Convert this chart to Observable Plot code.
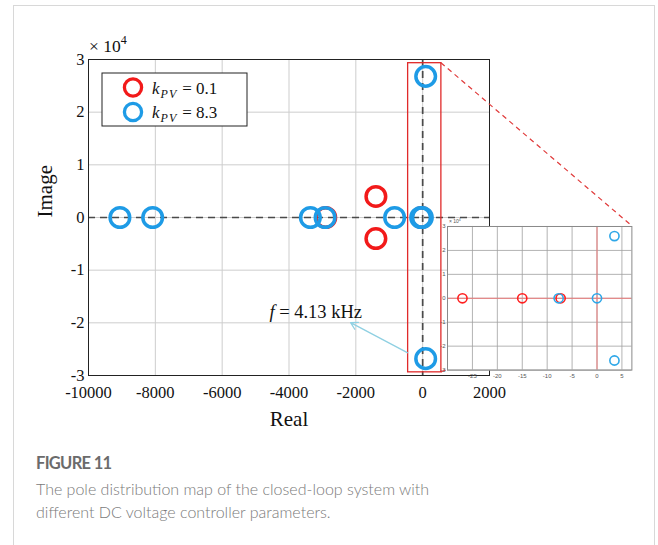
<!DOCTYPE html>
<html>
<head>
<meta charset="utf-8">
<script src="https://cdn.jsdelivr.net/npm/d3@7"></script>
<script src="https://cdn.jsdelivr.net/npm/@observablehq/plot@0.6"></script>
<style>
  html, body { margin: 0; padding: 0; background: #fff; width: 658px; height: 545px; overflow: hidden; }
  #card { position: absolute; left: 13px; top: 5px; width: 642px; height: 620px; border: 1.5px solid #d8d8d8; box-sizing: border-box; }
  #main, #links, #inset { position: absolute; left: 0; top: 0; }
  #links { pointer-events: none; }
  #main svg text, #main svg tspan { font-family: "Liberation Serif", "Times New Roman", serif; }
  #inset svg text, #inset svg tspan { font-family: "Liberation Sans", Arial, sans-serif; }
  #caption { position: absolute; left: 36px; top: 452px; font-family: Lato, "Open Sans", sans-serif; }
  #caption .fig { font-size: 16.5px; font-weight: 700; color: #6b6b6b; line-height: 22px; letter-spacing: -0.7px; }
  #caption .txt { font-size: 16px; font-weight: 300; color: #7a7a7a; line-height: 23px; margin-top: 3px; }
</style>
</head>
<body>
<div id="card"></div>
<div id="main"></div>
<svg id="links" width="658" height="440"></svg>
<div id="inset"></div>
<div id="caption">
  <div class="fig">FIGURE 11</div>
  <div class="txt">The pole distribution map of the closed-loop system with<br>different DC voltage controller parameters.</div>
</div>
<script>
// DC voltage controller gains and series colours
const kpv = [0.1, 8.3];
const colors = ["#f21a1a", "#1e9be6"];

// Closed-loop poles, full view (real, imaginary)
const redReal  = [-1400, -1400, -2900, -30];
const redImag  = [4000, -4000, 0, 0];
const blueReal = [-9060, -8080, -3360, -2920, -840, -60, -10, 90, 90];
const blueImag = [0, 0, 0, 0, 0, 0, 0, 26800, -26800];

const xTicks = [-10000, -8000, -6000, -4000, -2000, 0, 2000];
const yTicks = [-30000, -20000, -10000, 0, 10000, 20000, 30000];

// Zoom window around the imaginary axis
const zoomReal = [-435, 560];
const zoomImag = [-29400, 29300];

// Oscillation annotation
const noteText = "f = 4.13 kHz";
const noteAt = [-3200, -17900];
const arrowFrom = [-460, -25670];
const arrowTo = [-2156, -19960];

// Poles near the origin, magnified view (imaginary in units of 1e4)
const insetRedReal  = [-27, -15, -7.3];
const insetRedImag  = [0, 0, 0];
const insetBlueReal = [-7.7, 0, 3.5, 3.5];
const insetBlueImag = [0, 0, 2.6, -2.6];
const insetXTicks = [-25, -20, -15, -10, -5, 0, 5];
const insetYTicks = [-3, -2, -1, 0, 1, 2, 3];

const rows = (re, im) => re.map((x, i) => ({re: x, im: im[i]}));
const redPoles = rows(redReal, redImag);
const bluePoles = rows(blueReal, blueImag);
const insetRed = rows(insetRedReal, insetRedImag);
const insetBlue = rows(insetBlueReal, insetBlueImag);

const M = {left: 88, right: 169, top: 59, bottom: 65, width: 658, height: 440};
const serif = "'Liberation Serif', 'Times New Roman', serif";

const main = Plot.plot({
  width: M.width, height: M.height,
  marginLeft: M.left, marginRight: M.right, marginTop: M.top, marginBottom: M.bottom,
  style: {fontFamily: serif, fontSize: "16.5px", color: "#111", background: "transparent", overflow: "visible"},
  x: {domain: [-10000, 2000], label: null},
  y: {domain: [-30000, 30000], label: null},
  marks: [
    Plot.gridX(xTicks, {stroke: "#cdcdcd", strokeOpacity: 1}),
    Plot.gridY(yTicks, {stroke: "#cdcdcd", strokeOpacity: 1}),
    Plot.ruleY([0], {stroke: "#4a4a4a", strokeWidth: 1.7, strokeDasharray: "7,5"}),
    Plot.ruleX([0], {stroke: "#4a4a4a", strokeWidth: 1.7, strokeDasharray: "7,5"}),
    Plot.rect([{x1: zoomReal[0], x2: zoomReal[1], y1: zoomImag[0], y2: zoomImag[1]}],
      {x1: "x1", x2: "x2", y1: "y1", y2: "y2", fill: "none", stroke: "#e02a2a", strokeWidth: 1.3}),
    Plot.dot(redPoles, {x: "re", y: "im", r: 9.8, stroke: colors[0], strokeWidth: 3.5}),
    Plot.dot(bluePoles, {x: "re", y: "im", r: 9.8, stroke: colors[1], strokeWidth: 3.5}),
    Plot.arrow([{x1: arrowFrom[0], y1: arrowFrom[1], x2: arrowTo[0], y2: arrowTo[1]}],
      {x1: "x1", y1: "y1", x2: "x2", y2: "y2", stroke: "#8fd0e2", strokeWidth: 1.3, headLength: 9}),
    Plot.text([noteText], {x: noteAt[0], y: noteAt[1], text: d => d, fontSize: 18.5}),
    Plot.frame({stroke: "#222", strokeWidth: 1}),
    Plot.axisX(xTicks, {tickSize: 0, tickPadding: 11, tickFormat: d => String(d), label: null}),
    Plot.axisY(yTicks, {tickSize: 0, tickPadding: 4, tickFormat: d => String(d / 1e4), label: null}),
    Plot.text(["Real"], {frameAnchor: "bottom", dy: 50, text: d => d, fontSize: 21}),
    Plot.text(["Image"], {frameAnchor: "left", dx: -43, rotate: -90, text: d => d, fontSize: 21})
  ]
});
document.getElementById("main").appendChild(main);

const svg = d3.select(main);
// italic frequency symbol
svg.selectAll("text").filter(function () { return this.textContent === noteText; })
  .text(null)
  .call(t => {
    t.append("tspan").attr("font-style", "italic").text("f");
    t.append("tspan").text(noteText.slice(1));
  });

// exponent label above the y axis
const expo = svg.append("text")
  .attr("x", M.left + 1).attr("y", M.top - 7).attr("text-anchor", "start")
  .attr("font-size", 17.5).attr("fill", "#111");
expo.append("tspan").text("× 10");
expo.append("tspan").attr("font-size", 12).attr("dy", -8).text("4");

// legend
const lg = svg.append("g").attr("transform", `translate(${M.left + 14},${M.top + 14})`)
  .attr("font-size", 17).attr("fill", "#111").attr("text-anchor", "start");
lg.append("rect").attr("width", 145).attr("height", 53).attr("fill", "#fff").attr("stroke", "#222").attr("stroke-width", 1);
kpv.forEach((k, i) => {
  const gy = 14.5 + i * 24.5;
  lg.append("circle").attr("cx", 31).attr("cy", gy).attr("r", 8.6)
    .attr("fill", "none").attr("stroke", colors[i]).attr("stroke-width", 3.3);
  const t = lg.append("text").attr("x", 50).attr("y", gy + 6);
  t.append("tspan").attr("font-style", "italic").text("k");
  t.append("tspan").attr("font-style", "italic").attr("font-size", 12).attr("dy", 4).attr("dx", 1).attr("letter-spacing", 1).text("PV");
  t.append("tspan").attr("dy", -4).attr("dx", 5).text("= " + k);
});

// magnified view
const I = {left: 435.3, top: 215.7, width: 200.4, height: 165.6, mL: 12, mR: 4, mT: 10, mB: 12};
const inset = Plot.plot({
  width: I.width, height: I.height,
  marginLeft: I.mL, marginRight: I.mR, marginTop: I.mT, marginBottom: I.mB,
  style: {fontSize: "6px", color: "#555", background: "transparent", overflow: "visible"},
  x: {domain: [-30, 7], label: null},
  y: {domain: [-3, 3], label: null},
  marks: [
    Plot.frame({fill: "#fff", stroke: null}),
    Plot.gridX(insetXTicks, {stroke: "#a0a0a0", strokeOpacity: 1, strokeWidth: 0.8}),
    Plot.gridY(insetYTicks, {stroke: "#a0a0a0", strokeOpacity: 1, strokeWidth: 0.8}),
    Plot.ruleX([0], {stroke: "#ec7a7a", strokeWidth: 1}),
    Plot.ruleY([0], {stroke: "#ec7a7a", strokeWidth: 1}),
    Plot.dot(insetRed, {x: "re", y: "im", r: 4.6, stroke: "#ff1f1f", strokeWidth: 1.6}),
    Plot.dot(insetBlue, {x: "re", y: "im", r: 4.6, stroke: "#2ea7e8", strokeWidth: 1.6}),
    Plot.frame({stroke: "#8a8a8a", strokeWidth: 1}),
    Plot.axisX(insetXTicks, {tickSize: 0, tickPadding: 4, tickFormat: d => String(d), label: null}),
    Plot.axisY(insetYTicks, {tickSize: 0, tickPadding: 2, tickFormat: d => String(d), label: null})
  ]
});
const insetDiv = document.getElementById("inset");
insetDiv.style.left = I.left + "px";
insetDiv.style.top = I.top + "px";
insetDiv.appendChild(inset);
const ie = d3.select(inset).append("text")
  .attr("x", I.mL + 2).attr("y", I.mT - 3).attr("text-anchor", "start")
  .attr("font-size", 5).attr("fill", "#555");
ie.append("tspan").text("× 10");
ie.append("tspan").attr("font-size", 3.5).attr("dy", -2).text("4");

// dashed connectors from the zoom window to the magnified view
const sx = main.scale("x"), sy = main.scale("y");
const links = [
  [[sx.apply(zoomReal[1]), sy.apply(zoomImag[1])], [I.left + I.width - I.mR, I.top + I.mT]],
  [[sx.apply(zoomReal[1]), sy.apply(zoomImag[0])], [I.left + I.mL, I.top + I.height - I.mB]]
];
d3.select("#links").selectAll("line").data(links).join("line")
  .attr("x1", d => d[0][0]).attr("y1", d => d[0][1])
  .attr("x2", d => d[1][0]).attr("y2", d => d[1][1])
  .attr("stroke", "#e03a3a").attr("stroke-width", 1.2).attr("stroke-dasharray", "5,4");
</script>
</body>
</html>
